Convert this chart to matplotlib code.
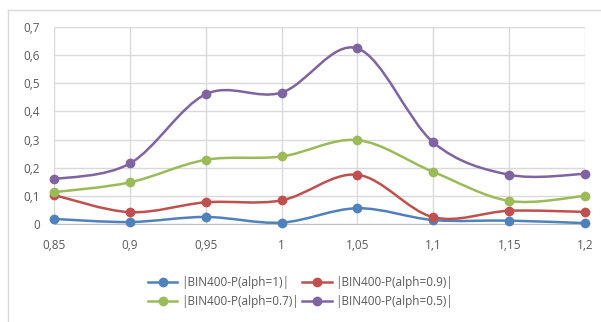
import numpy as np
import matplotlib
matplotlib.use("Agg")
import matplotlib.pyplot as plt
from matplotlib.path import Path
from matplotlib.patches import PathPatch
from matplotlib.lines import Line2D

# valeurs
x_vals = [0.85, 0.9, 0.95, 1.0, 1.05, 1.1, 1.15, 1.2]
x_labels = ["0,85", "0,9", "0,95", "1", "1,05", "1,1", "1,15", "1,2"]
alph_1 = [0.018, 0.007, 0.025, 0.005, 0.056, 0.014, 0.012, 0.003]
alph_09 = [0.103, 0.042, 0.077, 0.084, 0.175, 0.024, 0.047, 0.043]
alph_07 = [0.113, 0.148, 0.228, 0.240, 0.298, 0.185, 0.082, 0.100]
alph_05 = [0.159, 0.215, 0.461, 0.467, 0.624, 0.290, 0.175, 0.178]
noms = ["|BIN400-P(alph=1)|", "|BIN400-P(alph=0.9)|",
        "|BIN400-P(alph=0.7)|", "|BIN400-P(alph=0.5)|"]
couleurs = ["#4F81BD", "#C0504D", "#9BBB59", "#8064A2"]
y_ticks = [0, 0.1, 0.2, 0.3, 0.4, 0.5, 0.6, 0.7]


def courbe_lissee(xs, ys):
    # courbe de Bezier type Excel (lissage Catmull-Rom)
    pts = np.column_stack([xs, ys])
    n = len(pts)
    verts = [pts[0]]
    codes = [Path.MOVETO]
    for i in range(n - 1):
        p0 = pts[i - 1] if i > 0 else pts[i]
        p1 = pts[i]
        p2 = pts[i + 1]
        p3 = pts[i + 2] if i + 2 < n else pts[i + 1]
        c1 = p1 + (p2 - p0) / 6
        c2 = p2 - (p3 - p1) / 6
        verts += [c1, c2, p2]
        codes += [Path.CURVE4] * 3
    return Path(verts, codes)


plt.rcParams["font.family"] = ["Open Sans", "DejaVu Sans"]
fig = plt.figure(figsize=(6.01, 3.22), dpi=100)
ax = fig.add_axes([54 / 601, 1 - 224 / 322, (585 - 54) / 601, (224 - 27) / 322])

series = [alph_1, alph_09, alph_07, alph_05]
for ys, c in zip(series, couleurs):
    ax.add_patch(PathPatch(courbe_lissee(x_vals, ys), facecolor="none",
                           edgecolor=c, lw=1.8, zorder=3, clip_on=False))
    ax.plot(x_vals, ys, "o", color=c, ms=6, zorder=4, clip_on=False)

ax.set_xlim(0.85, 1.2)
ax.set_ylim(0, 0.7)
ax.set_xticks(x_vals)
ax.set_xticklabels(x_labels)
ax.set_yticks(y_ticks)
ax.set_yticklabels(["0", "0,1", "0,2", "0,3", "0,4", "0,5", "0,6", "0,7"])
ax.grid(True, color="#D9D9D9", lw=1)
ax.set_axisbelow(True)
for s in ["top", "right", "left"]:
    ax.spines[s].set_visible(False)
ax.spines["bottom"].set_color("#BFBFBF")
ax.tick_params(length=0, labelsize=8.5, colors="#595959")
ax.tick_params(axis="x", pad=11)
ax.tick_params(axis="y", pad=10)

# legende remplie ligne par ligne comme dans Excel
handles = [Line2D([], [], color=c, lw=1.8, marker="o", ms=6) for c in couleurs]
ordre = [0, 2, 1, 3]
fig.legend([handles[i] for i in ordre], [noms[i] for i in ordre],
           loc="center", bbox_to_anchor=(0.5, 1 - 292 / 322),
           ncol=2, frameon=False, fontsize=8.5, handlelength=2.5,
           columnspacing=0.3, handletextpad=0.3, labelspacing=0.45,
           labelcolor="#595959")

# cadre du graphique
fig.add_artist(Line2D([8 / 601, 8 / 601], [0, 1 - 10 / 322], color="#D9D9D9", lw=1))
fig.add_artist(Line2D([8 / 601, 1], [1 - 10 / 322, 1 - 10 / 322], color="#D9D9D9", lw=1))

fig.savefig("out.png", dpi=100)
